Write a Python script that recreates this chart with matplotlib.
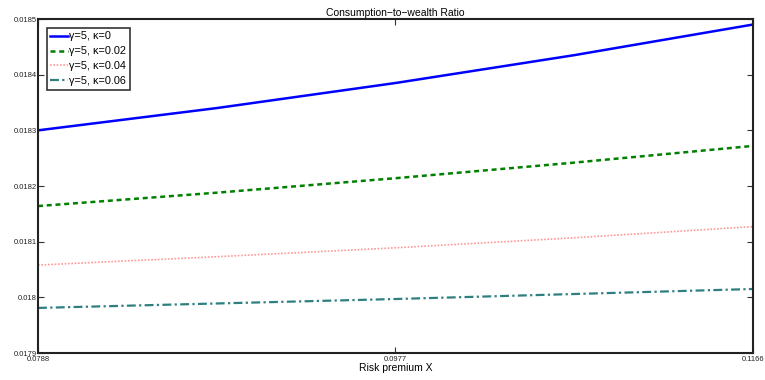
import matplotlib
matplotlib.use('Agg')
import matplotlib.pyplot as plt
import numpy as np

plt.rcParams['font.family'] = ['Liberation Sans', 'DejaVu Sans']

# risk premium grid and consumption-to-wealth ratios
x = [0.0788, 0.08825, 0.0977, 0.10715, 0.1166]
cw_k0 = [0.018300, 0.018340, 0.018385, 0.018435, 0.018490]
cw_k002 = [0.018164, 0.018188, 0.018214, 0.018242, 0.018272]
cw_k004 = [0.018058, 0.018073, 0.018089, 0.018107, 0.018127]
cw_k006 = [0.017981, 0.017989, 0.017997, 0.018006, 0.018015]
labels = ['γ=5, κ=0', 'γ=5, κ=0.02', 'γ=5, κ=0.04', 'γ=5, κ=0.06']
xticks = [0.0788, 0.0977, 0.1166]
yticks = [0.0179, 0.018, 0.0181, 0.0182, 0.0183, 0.0184, 0.0185]

fig = plt.figure(figsize=(7.65, 3.8), dpi=100)
ax = fig.add_axes([0.0497, 0.071, 0.9343, 0.879])

ax.plot(x, cw_k0, color='#0000ff', lw=1.8, ls='-', label=labels[0])
ax.plot(x, cw_k002, color='#008000', lw=1.8, ls=(0, (2, 1.5)), label=labels[1])
ax.plot(x, cw_k004, color='#ff9999', lw=1.2, ls=(0, (1, 1)), label=labels[2])
ax.plot(x, cw_k006, color='#2e8080', lw=1.6, ls=(0, (4, 1.5, 1, 1.5)), label=labels[3])

ax.set_xlim(0.0788, 0.1166)
ax.set_ylim(0.0179, 0.0185)
ax.set_xticks(xticks)
ax.set_xticklabels(['%g' % v for v in xticks])
ax.set_yticks(yticks)
ax.set_yticklabels(['%g' % v for v in yticks])
ax.tick_params(direction='in', length=4, width=0.8, labelsize=5.5, pad=1,
               top=True, right=True, colors='#333333', labelcolor='#222222')
ax.tick_params(axis='x', pad=2)
for s in ax.spines.values():
    s.set_linewidth(1.5)
    s.set_color('#222222')

ax.set_title('Consumption\u2212to\u2212wealth Ratio', fontsize=7.5, pad=2)
ax.set_xlabel('Risk premium X', fontsize=7.5, labelpad=0)

leg = ax.legend(loc='upper left', fontsize=7.8, frameon=True, fancybox=False,
                borderaxespad=0.8, handlelength=1.6, handletextpad=0.15,
                labelspacing=0.45, borderpad=0.35)
leg.get_frame().set_edgecolor('black')
leg.get_frame().set_linewidth(1.2)

fig.savefig('out.png', dpi=100)
